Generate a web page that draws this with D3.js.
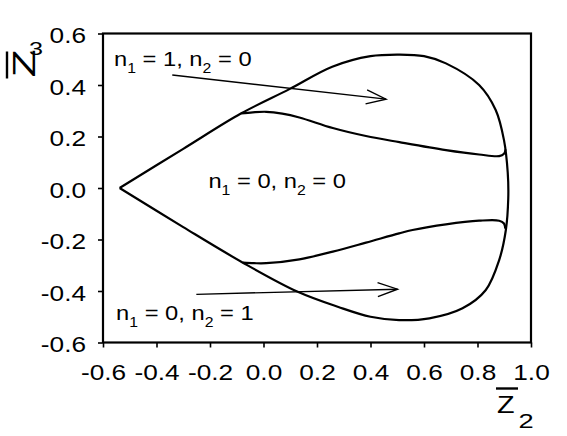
<!DOCTYPE html>
<html><head><meta charset="utf-8">
<script src="https://cdn.jsdelivr.net/npm/d3@7/dist/d3.min.js"></script>
<style>
body{margin:0;background:#fff}
text{font-family:"Liberation Sans",Arial,Helvetica,sans-serif;fill:#000}
</style>
</head><body>
<svg id="c" width="567" height="436"></svg>
<script>
// ---- data ----
const xTicks = [-0.6,-0.4,-0.2,0.0,0.2,0.4,0.6,0.8,1.0];
const yTicks = [-0.6,-0.4,-0.2,0.0,0.2,0.4,0.6];
// outer boundary: cusp -> over the top -> right side -> bottom -> cusp
const outerBoundary = [
  [-0.538,0.000],[-0.300,0.152],[-0.083,0.290],[0.097,0.384],[0.257,0.471],
  [0.400,0.512],[0.507,0.518],[0.600,0.512],[0.682,0.484],[0.806,0.400],
  [0.868,0.303],[0.899,0.186],[0.913,0.060],[0.915,-0.040],[0.906,-0.163],
  [0.881,-0.280],[0.831,-0.396],[0.744,-0.467],[0.620,-0.506],[0.507,-0.513],
  [0.400,-0.500],[0.280,-0.462],[0.128,-0.403],[-0.077,-0.290],[-0.300,-0.152],
  [-0.538,0.000]
];
const innerUpper = [
  [-0.083,0.290],[-0.040,0.294],[0.010,0.296],[0.070,0.289],[0.134,0.274],
  [0.259,0.233],[0.383,0.202],[0.508,0.178],[0.682,0.147],[0.806,0.130],
  [0.881,0.124],[0.899,0.133],[0.905,0.150]
];
const innerLower = [
  [-0.077,-0.290],[-0.035,-0.292],[0.010,-0.292],[0.134,-0.277],[0.259,-0.247],
  [0.383,-0.212],[0.507,-0.176],[0.557,-0.163],[0.682,-0.141],[0.806,-0.127],
  [0.881,-0.127],[0.899,-0.138],[0.904,-0.158]
];
const arrowFrom = [[-0.341,0.439],[-0.251,-0.413]];
const arrowTo   = [[0.458,0.345],[0.501,-0.393]];
const regionN1 = ["1","0","0"];
const regionN2 = ["0","0","1"];

// ---- layout ----
const svg = d3.select("#c");
const x = d3.scaleLinear().domain([-0.6,1.0]).range([103,531]);
const y = d3.scaleLinear().domain([-0.6,0.6]).range([342.5,33.5]);
const fmt = d => d.toFixed(1);
const SX = 1.22;

// axes
const gx = svg.append("g").attr("transform","translate(0,342.5)")
  .call(d3.axisBottom(x).tickValues(xTicks).tickFormat(fmt).tickSize(5).tickSizeOuter(0).tickPadding(17));
gx.select(".domain").remove();
gx.selectAll(".tick line").attr("stroke","#000").attr("stroke-width",1.6);
gx.selectAll(".tick text").attr("font-size",21.5).attr("transform",`scale(${SX},1)`)
  .style("font-family","'Liberation Sans',Arial,sans-serif");

const gy = svg.append("g").attr("transform","translate(102.5,0)")
  .call(d3.axisLeft(y).tickValues(yTicks).tickFormat(fmt).tickSize(4.5).tickSizeOuter(0).tickPadding(9));
gy.select(".domain").remove();
gy.selectAll(".tick line").attr("stroke","#000").attr("stroke-width",1.6);
gy.selectAll(".tick text").attr("font-size",21.5).attr("dy","0.43em").attr("transform",`scale(${SX},1)`)
  .style("font-family","'Liberation Sans',Arial,sans-serif");

// frame
svg.append("rect").attr("x",x(-0.6)).attr("y",y(0.6))
  .attr("width",x(1.0)-x(-0.6)).attr("height",y(-0.6)-y(0.6))
  .attr("fill","none").attr("stroke","#000").attr("stroke-width",2.2);

// curves
const line = d3.line().x(d=>x(d[0])).y(d=>y(d[1])).curve(d3.curveCatmullRom.alpha(0.5));
[outerBoundary, innerUpper, innerLower].forEach(pts=>{
  svg.append("path").attr("d",line(pts)).attr("fill","none")
    .attr("stroke","#000").attr("stroke-width",2.2).attr("stroke-linejoin","round");
});

// arrows
arrowFrom.forEach((f,i)=>{
  const t = arrowTo[i];
  const x0=x(f[0]), y0=y(f[1]), x1=x(t[0]), y1=y(t[1]);
  svg.append("line").attr("x1",x0).attr("y1",y0).attr("x2",x1).attr("y2",y1)
    .attr("stroke","#000").attr("stroke-width",1.4);
  const a = Math.atan2(y1-y0,x1-x0), L=21, w=0.34;
  const p1=[x1-L*Math.cos(a-w), y1-L*Math.sin(a-w)];
  const p2=[x1-L*Math.cos(a+w), y1-L*Math.sin(a+w)];
  svg.append("path").attr("d",`M${p1[0]},${p1[1]}L${x1},${y1}L${p2[0]},${p2[1]}`)
    .attr("fill","none").attr("stroke","#000").attr("stroke-width",1.4);
});

// region labels
const labelAt = [[-0.559,0.474],[-0.206,0.000],[-0.551,-0.513]];
labelAt.forEach((p,i)=>{
  const g = svg.append("g").attr("transform",`translate(${x(p[0])},${y(p[1])}) scale(1.13,1)`);
  const t = g.append("text").attr("font-size",21);
  t.append("tspan").text("n");
  t.append("tspan").attr("font-size",14).attr("dy",7).text("1");
  t.append("tspan").attr("dy",-7).text(" = " + regionN1[i] + ", n");
  t.append("tspan").attr("font-size",14).attr("dy",7).text("2");
  t.append("tspan").attr("dy",-7).text(" = " + regionN2[i]);
});

// x axis title: Z-bar with subscript 2
const xt = svg.append("g").attr("transform","translate(497,413) scale(1.25,1)");
xt.append("text").attr("font-size",23).text("Z");
svg.append("line").attr("x1",496).attr("x2",518).attr("y1",388.5).attr("y2",388.5)
  .attr("stroke","#000").attr("stroke-width",2.4);
svg.append("g").attr("transform","translate(518.5,428) scale(1.3,1)")
  .append("text").attr("font-size",21).text("2");

// y axis title: rotated Z-bar with subscript 3
svg.append("g").attr("transform","translate(35,77.5) rotate(-90) scale(1.45,1)")
  .append("text").attr("font-size",32).text("Z");
svg.append("line").attr("x1",7).attr("x2",7).attr("y1",51.5).attr("y2",78.5)
  .attr("stroke","#000").attr("stroke-width",2.4);
svg.append("g").attr("transform","translate(29,55) scale(1.4,1)")
  .append("text").attr("font-size",18).text("3");
</script>
</body></html>
